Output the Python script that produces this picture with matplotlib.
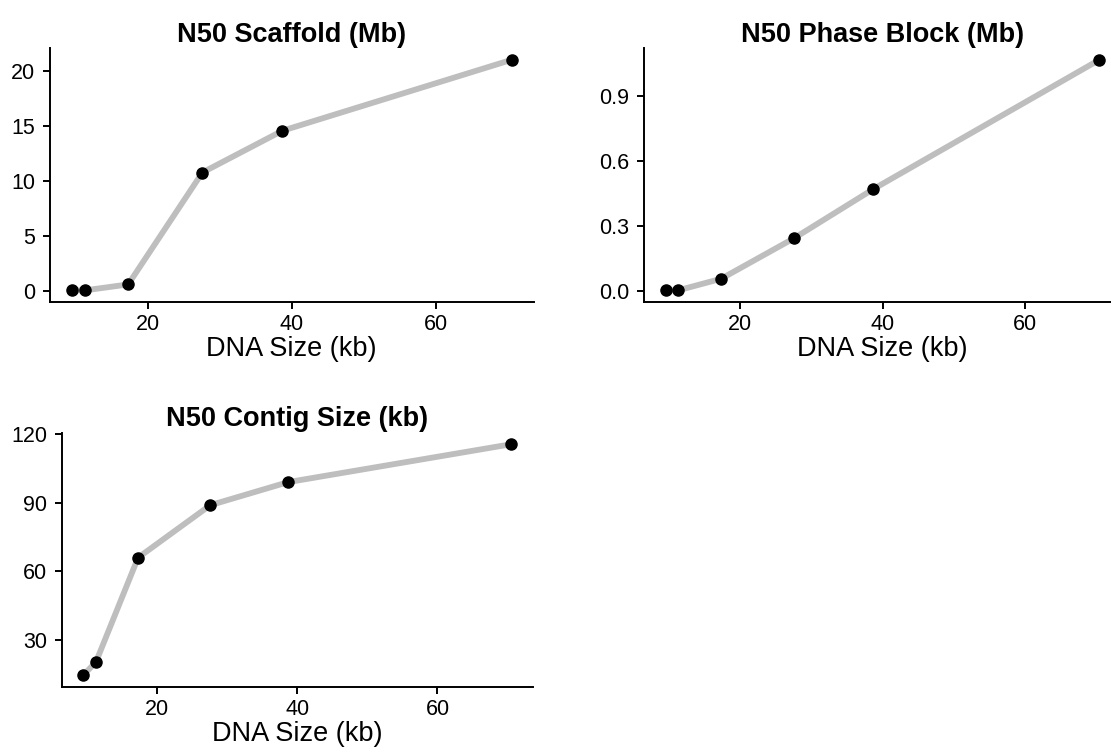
import matplotlib
matplotlib.use("Agg")
import matplotlib.pyplot as plt
from matplotlib.ticker import FormatStrFormatter

plt.rcParams["font.family"] = ["Liberation Sans", "DejaVu Sans"]

# DNA fragment size (kb) and assembly metrics
dna_size = [9.5, 11.3, 17.3, 27.6, 38.7, 70.5]
n50_scaffold = [0.02, 0.03, 0.57, 10.75, 14.55, 21.0]
n50_phase = [0.001, 0.002, 0.055, 0.243, 0.469, 1.066]
n50_contig = [14.4, 20.2, 65.9, 88.9, 99.0, 115.6]

titles = ["N50 Scaffold (Mb)", "N50 Phase Block (Mb)", "N50 Contig Size (kb)"]
yticks = [[0, 5, 10, 15, 20], [0.0, 0.3, 0.6, 0.9], [30, 60, 90, 120]]
xticks = [20, 40, 60]

W, H = 1111, 756
# axes boxes in pixels: left, top, right, bottom
boxes = [(50, 48.3, 533.5, 302), (644, 48.3, 1121, 302), (62, 432.7, 532.5, 686.7)]


def panel(fig, box, y, title, ticks, fmt=None):
    l, t, r, b = box
    ax = fig.add_axes([l / W, (H - b) / H, (r - l) / W, (b - t) / H])
    ax.plot(dna_size, y, color="#bebebe", lw=4.2, solid_capstyle="butt", zorder=2)
    ax.plot(dna_size, y, "o", color="black", ms=8, zorder=3)
    ax.margins(0.05)
    ax.set_xticks(xticks)
    ax.set_yticks(ticks)
    if fmt:
        ax.yaxis.set_major_formatter(FormatStrFormatter(fmt))
    for s in ["top", "right"]:
        ax.spines[s].set_visible(False)
    for s in ["left", "bottom"]:
        ax.spines[s].set_linewidth(1.4)
    ax.tick_params(axis="both", length=4.7, width=1.4, labelsize=15.5, colors="black")
    ax.tick_params(axis="x", pad=3.8)
    ax.tick_params(axis="y", pad=5.8)
    ax.set_xlabel("DNA Size (kb)", fontsize=19.5, labelpad=1)
    ax.set_title(title, fontsize=19.5, fontweight="bold", pad=4.5)
    return ax


fig = plt.figure(figsize=(W / 100, H / 100), dpi=100)
panel(fig, boxes[0], n50_scaffold, titles[0], yticks[0])
panel(fig, boxes[1], n50_phase, titles[1], yticks[1], "%.1f")
panel(fig, boxes[2], n50_contig, titles[2], yticks[2])

fig.savefig("out.png", dpi=100)
